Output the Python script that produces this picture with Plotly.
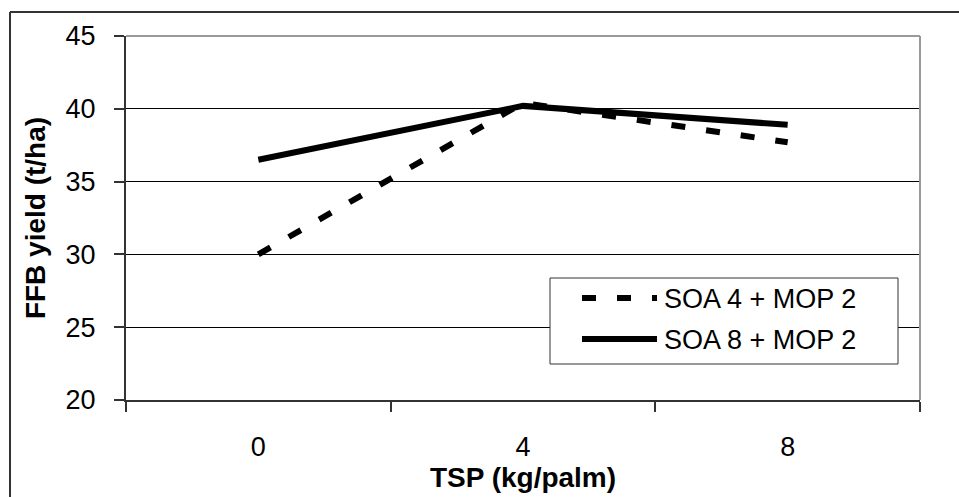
import plotly.graph_objects as go

categories = ["0", "4", "8"]
soa4_mop2 = [30.0, 40.4, 37.7]
soa8_mop2 = [36.5, 40.2, 38.9]
series_names = ["SOA 4 + MOP 2", "SOA 8 + MOP 2"]
y_ticks = [20, 25, 30, 35, 40, 45]

FONT = "Liberation Sans, Arial, sans-serif"
FS = 27
FT = 28
DASH = "14px,21px"

fig = go.Figure()
fig.add_trace(go.Scatter(x=categories, y=soa4_mop2, mode="lines", name=series_names[0],
                         line=dict(color="black", width=6, dash=DASH), showlegend=False))
fig.add_trace(go.Scatter(x=categories, y=soa8_mop2, mode="lines", name=series_names[1],
                         line=dict(color="black", width=6), showlegend=False))

L, R, T, B = 126, 39, 36, 97
W, H = 959, 497
pw, ph = W - L - R, H - T - B

def px(x):
    return (x - L) / pw

def py(y):
    return (H - B - y) / ph

shapes = []
shapes.append(dict(type="line", xref="paper", yref="paper", x0=0, x1=1, y0=1, y1=1,
                   line=dict(color="#999999", width=2)))
shapes.append(dict(type="line", xref="paper", yref="paper", x0=1, x1=1, y0=0, y1=1,
                   line=dict(color="#999999", width=2)))
shapes.append(dict(type="line", xref="paper", yref="paper", x0=px(10), x1=px(10), y0=py(500), y1=py(12),
                   line=dict(color="#333333", width=2)))
shapes.append(dict(type="line", xref="paper", yref="paper", x0=px(10), x1=px(962), y0=py(12), y1=py(12),
                   line=dict(color="#333333", width=2)))
shapes.append(dict(type="rect", xref="paper", yref="paper", x0=px(550), x1=px(898), y0=py(364), y1=py(278),
                   line=dict(color="#333333", width=1), fillcolor="white", layer="above"))
shapes.append(dict(type="line", xref="paper", yref="paper", x0=px(582), x1=px(657), y0=py(298), y1=py(298),
                   line=dict(color="black", width=6, dash=DASH), layer="above"))
shapes.append(dict(type="line", xref="paper", yref="paper", x0=px(582), x1=px(657), y0=py(339), y1=py(339),
                   line=dict(color="black", width=6), layer="above"))

annotations = []
for name, yy in zip(series_names, [299, 340]):
    annotations.append(dict(text=name, xref="paper", yref="paper", x=px(662), y=py(yy),
                            xanchor="left", yanchor="middle", showarrow=False,
                            font=dict(family=FONT, size=FS, color="black")))

fig.update_layout(
    width=W, height=H,
    margin=dict(l=L, r=R, t=T, b=B),
    paper_bgcolor="white", plot_bgcolor="white",
    font=dict(family=FONT, size=FS, color="black"),
    shapes=shapes, annotations=annotations,
    xaxis=dict(type="category", range=[-0.5, 2.5], tickson="boundaries", ticks="outside",
               ticklen=10, tickcolor="#333333", tickwidth=1.5, showgrid=False,
               showline=True, linecolor="#333333", linewidth=2,
               tickfont=dict(family=FONT, size=FS, color="black"), ticklabelstandoff=22,
               title=dict(text="<b>TSP (kg/palm)</b>", font=dict(family=FONT, size=FT, color="black"), standoff=0)),
    yaxis=dict(range=[20, 45], tickvals=y_ticks, ticks="outside", ticklen=10, tickcolor="#333333",
               tickwidth=1.5, showgrid=True, gridcolor="black", gridwidth=1,
               showline=True, linecolor="#333333", linewidth=2, zeroline=False,
               tickfont=dict(family=FONT, size=FS, color="black"), ticklabelstandoff=13,
               title=dict(text="<b>FFB yield (t/ha)</b>", font=dict(family=FONT, size=FT, color="black"), standoff=12)),
)

fig.write_html("out.html")
